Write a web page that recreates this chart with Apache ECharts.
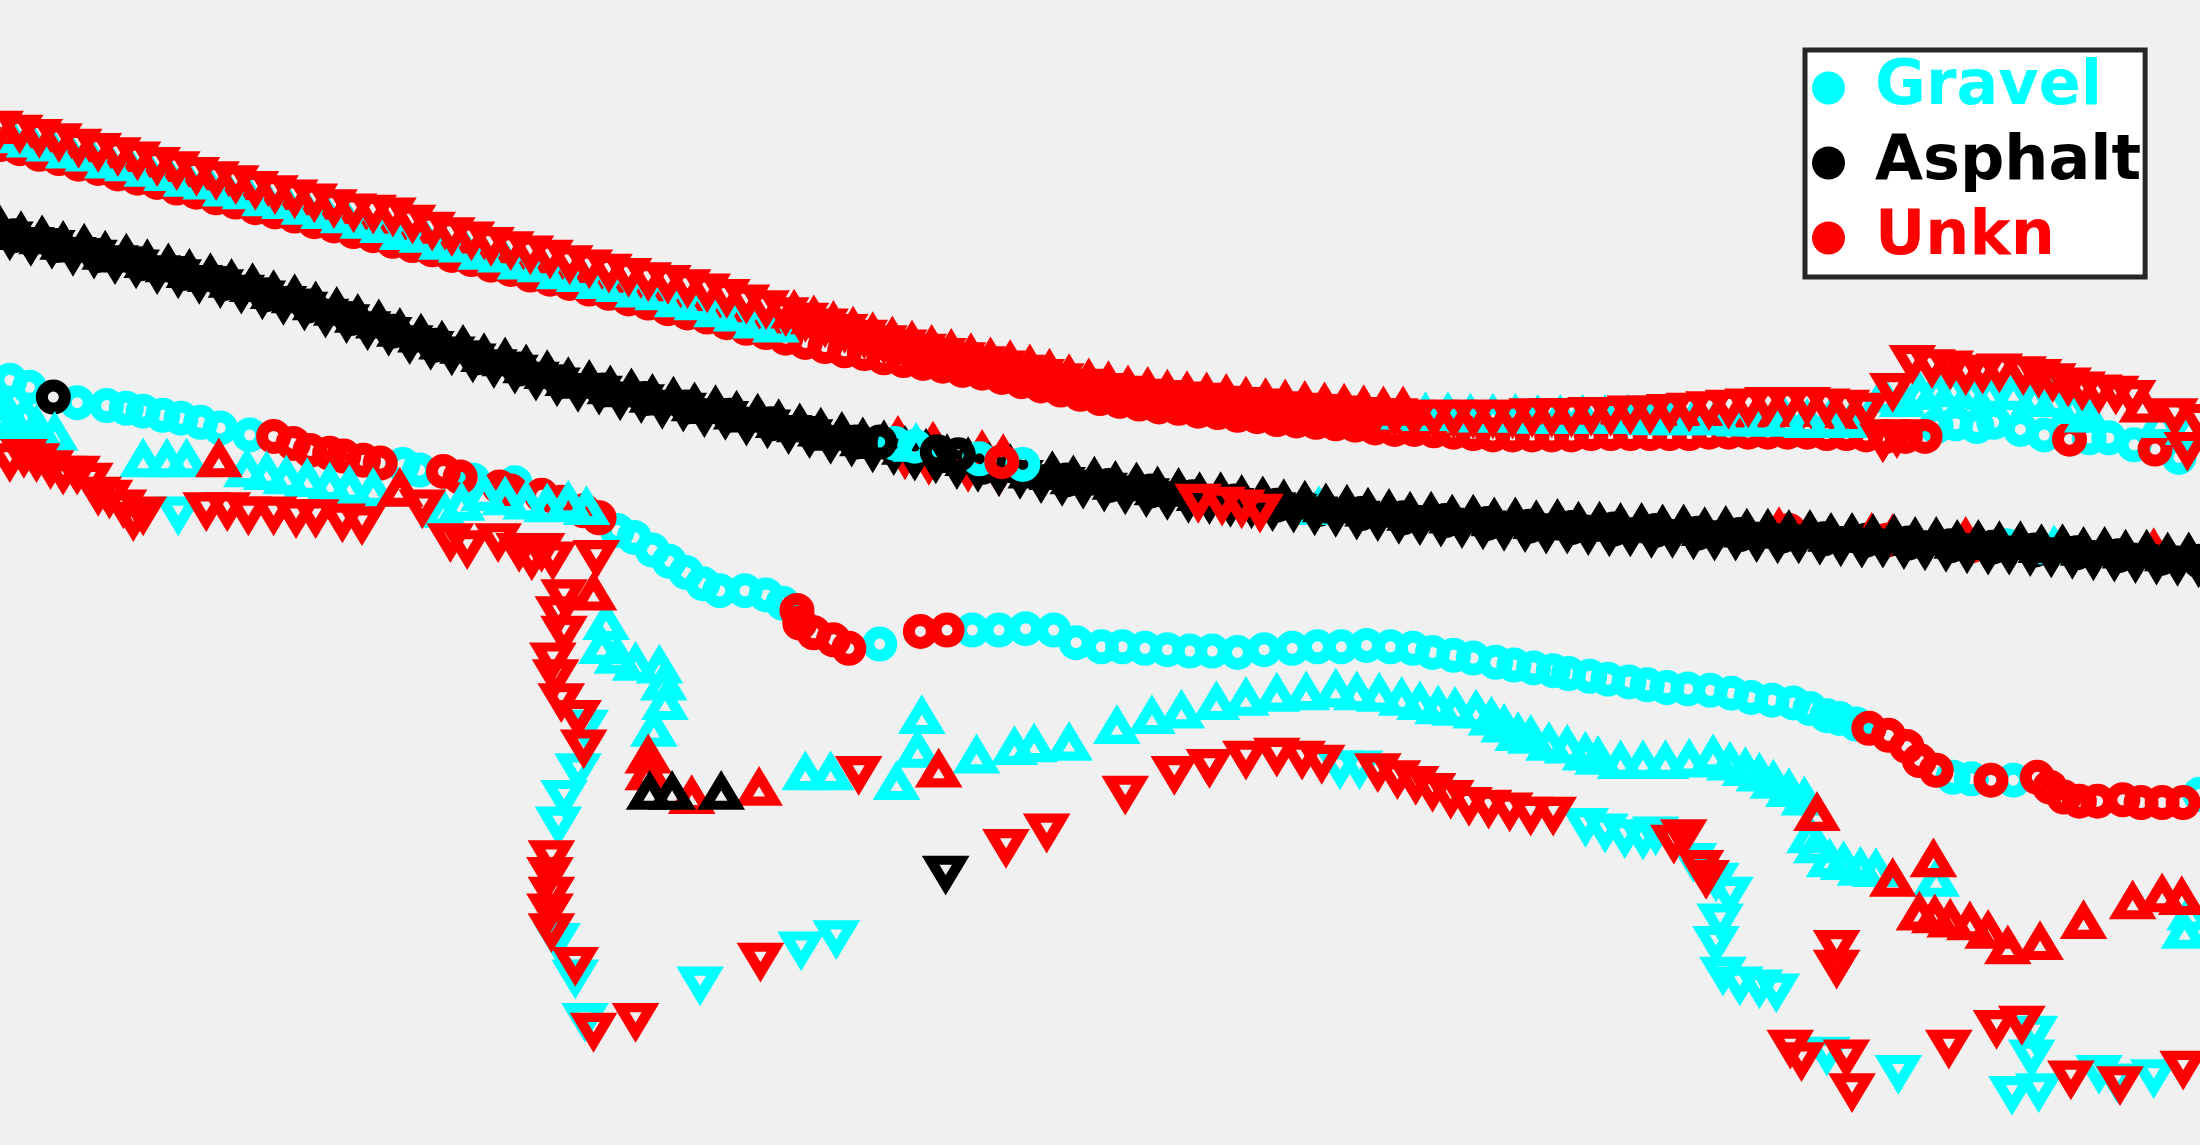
<!DOCTYPE html>
<html><head><meta charset="utf-8">
<script src="https://cdn.jsdelivr.net/npm/echarts@6/dist/echarts.min.js"></script>
<style>html,body{margin:0;padding:0;background:#f0f0f0;}#c{width:2200px;height:1145px;}</style>
</head><body><div id="c"></div>
<script>
// ---------- categories ----------
const categories = ['Gravel', 'Asphalt', 'Unkn'];

// ---------- Asphalt band ----------
const asphaltUp = [[0,162],[15,166],[30,169],[45,173],[60,175],[75,180],[90,182],[105,186],[120,189],[135,193],[150,196],[165,200],[180,203],[195,208],[210,211],[225,216],[240,220],[255,225],[270,229],[285,235],[300,239],[315,244],[330,247],[345,253],[360,256],[375,261],[390,265],[405,270],[420,272],[435,276],[450,278],[465,282],[480,284],[495,288],[510,290],[525,294],[540,296],[555,300],[570,303],[585,306],[600,309],[615,313],[630,315],[645,319],[660,321],[675,325],[690,327],[705,331],[720,332],[735,336],[750,337],[765,340],[780,341],[795,344],[810,345],[825,348],[840,349],[855,352],[870,352],[885,354],[900,355],[915,357],[930,358],[945,360],[960,361],[975,363],[990,364],[1005,366],[1020,366],[1035,368],[1050,368],[1065,370],[1080,370],[1095,372],[1110,371],[1125,373],[1140,373],[1155,374],[1170,374],[1185,375],[1200,375],[1215,377],[1230,376],[1245,378],[1260,378],[1275,379],[1290,379],[1305,381],[1320,381],[1335,382],[1350,382],[1365,384],[1380,384],[1395,386],[1410,386],[1425,387],[1440,387],[1455,389],[1470,389],[1485,391],[1500,391],[1515,393],[1530,393],[1545,395],[1560,395]];
const asphaltDown = [[7,170],[22,174],[37,176],[52,181],[67,183],[82,187],[97,190],[112,194],[127,197],[142,201],[157,204],[172,208],[187,212],[202,216],[217,220],[232,225],[247,229],[262,234],[277,238],[292,244],[307,248],[322,252],[337,257],[352,261],[367,265],[382,270],[397,274],[412,278],[427,280],[442,284],[457,286],[472,290],[487,292],[502,296],[517,298],[532,302],[547,304],[562,308],[577,311],[592,315],[607,317],[622,321],[637,323],[652,327],[667,329],[682,333],[697,335],[712,338],[727,340],[742,343],[757,345],[772,347],[787,349],[802,351],[817,353],[832,355],[847,357],[862,358],[877,360],[892,361],[907,363],[922,364],[937,366],[952,367],[967,369],[982,370],[997,372],[1012,373],[1027,374],[1042,375],[1057,376],[1072,377],[1087,378],[1102,379],[1117,379],[1132,380],[1147,381],[1162,381],[1177,382],[1192,382],[1207,383],[1222,384],[1237,384],[1252,385],[1267,386],[1282,386],[1297,387],[1312,388],[1327,389],[1342,389],[1357,390],[1372,391],[1387,392],[1402,393],[1417,394],[1432,394],[1447,395],[1462,396],[1477,397],[1492,398],[1507,399],[1522,400],[1537,401],[1552,402],[1567,403]];
const asphaltCirc = [[10,168],[40,175],[70,182],[100,188],[130,195],[160,202],[190,210],[220,218],[250,227],[280,236],[310,246],[340,255],[370,263],[400,272],[430,278],[460,284],[490,290],[520,296],[550,302],[580,309],[610,315],[640,321],[700,333],[760,342],[790,346],[820,350],[850,354],[880,357],[910,360],[940,363],[970,366],[1000,369],[1030,371],[1060,373],[1090,375],[1120,376],[1150,377],[1180,378],[1210,380],[1240,381],[1270,382],[1300,384],[1330,385],[1360,387],[1390,389],[1420,390],[1450,392],[1480,394],[1510,396],[1540,398],[1568,400]];
const asphaltLowUp = [[463,565],[479,565],[514,565]];
const asphaltLowDown = [[674,622]];
const asphaltCurveCirc = [[38,283]];

// ---------- top band ----------
const unknTopDown = [[0,91],[14,94],[28,97],[42,100],[56,104],[70,107],[84,110],[98,113],[112,117],[126,120],[140,124],[154,127],[168,130],[182,134],[196,137],[210,140],[224,143],[238,147],[252,150],[266,151],[280,153],[294,158],[308,163],[322,167],[336,170],[350,174],[364,177],[378,180],[392,183],[406,187],[420,190],[434,193],[448,196],[462,199],[476,201],[490,204],[504,207],[518,211],[532,215],[546,219],[560,224],[574,228],[588,232],[602,236],[616,240],[630,244],[644,247],[658,250],[672,253],[686,256],[700,259],[714,262],[728,265],[742,268],[756,271],[770,275],[784,278],[798,280],[812,282],[826,283],[840,284],[854,285],[868,287],[882,288],[896,289],[910,291],[924,292],[938,293],[952,294],[966,295],[980,296],[994,296],[1008,297],[1022,297],[1036,297],[1050,297],[1064,297],[1078,297],[1092,296],[1106,296],[1120,296],[1134,295],[1148,295],[1162,294],[1176,294],[1190,293],[1204,292],[1218,291],[1232,290],[1246,289],[1260,288],[1274,288],[1288,288],[1302,289],[1316,290],[1330,292],[1342,314],[1349,278],[1352,311],[1363,258],[1377,261],[1390,262],[1401,266],[1413,265],[1425,264],[1442,266],[1453,268],[1463,271],[1474,274],[1484,277],[1496,279],[1508,280],[1520,283],[1550,296],[1559,320],[1568,300]];
const unknTopUp = [[566,222],[580,226],[594,230],[608,234],[622,238],[636,241],[650,244],[664,247],[678,250],[692,253],[706,256],[720,258],[734,261],[748,264],[762,268],[776,271],[790,273],[804,276],[818,277],[832,279],[846,280],[860,281],[874,282],[888,284],[902,285],[916,286],[930,287],[944,288],[958,289],[972,290],[986,291],[1000,291],[1527,289]];
const gravelTopUp = [[7,97],[21,100],[35,103],[49,108],[63,110],[77,115],[91,117],[105,121],[119,124],[133,128],[147,130],[161,135],[175,137],[189,142],[203,144],[217,148],[231,151],[245,154],[259,158],[273,161],[287,166],[301,168],[315,173],[329,175],[343,180],[357,182],[371,187],[385,189],[399,194],[413,196],[427,201],[441,203],[455,207],[469,209],[483,214],[497,216],[511,221],[525,224],[539,229],[553,232],[1000,294],[1016,295],[1032,295],[1048,296],[1064,296],[1080,296],[1096,297],[1112,297],[1128,297],[1144,297],[1160,297],[1176,298],[1192,298],[1208,298],[1224,298],[1240,299],[1256,299],[1272,299],[1288,300],[1304,300],[1320,300],[1342,282],[1356,285],[1368,280],[1380,278],[1392,277],[1405,279],[1418,280],[1435,280],[1450,283],[1463,285],[1477,290],[1488,296],[1540,300],[1560,305]];
const unknTopCirc = [[0,103],[14,106],[28,110],[42,113],[56,117],[70,120],[84,124],[98,127],[112,130],[126,134],[140,137],[154,141],[168,144],[182,148],[196,151],[210,154],[224,158],[238,161],[252,165],[266,168],[280,172],[294,175],[308,178],[322,182],[336,185],[350,189],[364,192],[378,196],[392,199],[406,202],[420,206],[434,209],[448,213],[462,216],[476,220],[490,223],[504,226],[518,230],[532,234],[546,237],[560,241],[574,244],[588,247],[602,250],[616,252],[630,255],[644,257],[658,259],[672,261],[686,264],[700,266],[714,269],[728,272],[742,275],[756,278],[770,281],[784,284],[798,286],[812,288],[826,290],[840,291],[854,293],[868,294],[882,296],[896,297],[910,299],[924,300],[938,301],[952,302],[966,303],[980,305],[994,306],[1008,306],[1022,307],[1036,308],[1050,309],[1064,310],[1078,310],[1092,310],[1106,310],[1120,310],[1134,309],[1148,309],[1162,309],[1176,309],[1190,309],[1204,309],[1218,308],[1232,308],[1246,308],[1260,308],[1274,308],[1288,308],[1302,309],[1316,309],[1330,310],[1344,311],[1358,311],[1372,311],[1475,313],[1536,320]];
const gravelTopCirc = [[1380,304],[1394,302],[1409,304],[1421,301],[1440,306],[1457,310],[1489,312],[1503,312],[1521,317],[1553,326]];

// ---------- circle curve ----------
const gravelCurveCirc = [[7,271],[21,276],[55,287],[76,289],[90,291],[102,293],[116,296],[129,298],[143,301],[157,305],[178,310],[287,331],[299,335],[337,342],[367,344],[440,378],[452,383],[465,392],[477,400],[489,408],[501,416],[513,421],[531,421],[546,424],[558,430],[627,459],[693,449],[712,449],[731,448],[751,449],[767,458],[785,461],[800,461],[816,462],[832,463],[848,464],[864,464],[882,465],[901,463],[921,462],[939,461],[956,461],[974,460],[991,461],[1007,462],[1021,465],[1036,467],[1050,469],[1066,472],[1079,474],[1093,476],[1107,478],[1118,480],[1133,482],[1146,484],[1161,486],[1174,488],[1188,490],[1203,491],[1219,492],[1234,494],[1248,497],[1263,499],[1278,501],[1290,505],[1302,510],[1311,512],[1323,516],[1392,554],[1405,555],[1435,556],[1568,566]];
const unknCurveCirc = [[195,311],[209,316],[221,321],[235,323],[245,325],[259,328],[271,330],[316,336],[328,340],[356,347],[364,350],[386,353],[400,358],[416,364],[427,369],[568,435],[570,444],[580,451],[594,456],[605,462],[656,450],[675,449],[1332,519],[1346,524],[1359,532],[1368,542],[1380,549],[1419,556],[1452,554],[1461,561],[1471,568],[1482,571],[1495,571],[1513,570],[1526,572],[1541,572],[1556,572]];

// ---------- lower curve ----------
const gravelLowUp = [[2,288],[4,295],[18,296],[10,302],[26,304],[30,312],[39,309],[102,328],[119,328],[133,328],[176,335],[190,337],[204,340],[219,342],[235,345],[249,347],[266,349],[316,364],[329,359],[345,352],[360,355],[375,358],[390,360],[405,358],[418,362],[432,444],[429,461],[440,468],[453,473],[470,475],[473,487],[474,501],[466,520],[574,551],[592,551],[639,558],[657,511],[654,535],[696,539],[723,533],[737,531],[762,530],[796,518],[821,511],[842,507],[867,501],[888,498],[910,495],[931,494],[952,492],[967,494],[983,495],[999,498],[1012,501],[1025,504],[1037,505],[1052,507],[1063,512],[1072,517],[1082,523],[1091,525],[1104,530],[1117,532],[1130,537],[1139,540],[1155,543],[1171,543],[1187,543],[1204,542],[1221,539],[1233,544],[1244,548],[1254,552],[1264,557],[1275,563],[1286,569],[1290,596],[1295,603],[1304,613],[1314,615],[1326,619],[1337,620],[1380,627],[1557,664],[1561,651]];
const gravelLowDown = [[127,366],[417,518],[412,549],[402,568],[398,587],[397,670],[410,696],[417,727],[499,701],[571,676],[596,668],[955,547],[969,547],[1130,588],[1144,592],[1158,596],[1171,597],[1180,594],[1207,613],[1223,627],[1233,637],[1226,656],[1223,672],[1228,694],[1240,701],[1254,703],[1266,706],[1302,751],[1353,764],[1450,736],[1448,753],[1434,779],[1453,777],[1496,764],[1509,770],[1535,767]];
const unknLowUp = [[156,328],[285,349],[423,423],[462,539],[462,551],[493,568],[541,562],[669,549],[1295,580],[1349,627],[1378,613],[1368,651],[1379,653],[1390,656],[1404,658],[1417,664],[1431,675],[1454,672],[1485,657],[1520,643],[1541,638],[1555,640]];
const unknLowDown = [[7,328],[17,325],[26,328],[36,333],[45,337],[55,337],[64,342],[70,352],[78,354],[88,361],[95,370],[102,366],[147,363],[162,363],[177,366],[195,366],[211,368],[225,368],[244,371],[258,373],[301,361],[321,385],[333,390],[355,385],[370,392],[379,398],[386,392],[394,398],[425,397],[402,425],[398,437],[402,451],[394,470],[396,482],[400,499],[412,511],[416,532],[393,611],[392,623],[393,637],[392,649],[393,663],[410,687],[423,734],[453,727],[542,684],[612,551],[717,603],[746,592],[802,565],[837,551],[862,546],[888,540],[910,538],[928,540],[942,543],[982,549],[996,554],[1009,558],[1021,563],[1034,568],[1047,573],[1061,575],[1076,577],[1091,580],[1107,580],[1193,600],[1200,596],[1212,618],[1216,625],[1309,675],[1309,689],[1276,746],[1284,755],[1316,753],[1320,777],[1389,746],[1423,732],[1441,729],[1476,768],[1511,772],[1556,761]];

// ---------- marks inside the Asphalt band ----------
const hiddenUnknUp = [[1268,377],[1334,381],[1349,382],[1401,384],[1535,392]];
const hiddenUnknCirc = [[1275,378],[1345,385],[1405,389]];
const hiddenGravelUp = [[940,362],[1464,390]];
const hiddenGravelCirc = [[1430,389]];
const clusterUnknUp = [[640,312],[665,316],[700,322],[715,325]];
const clusterUnknDown = [[645,326],[662,330],[690,335],[712,338]];
const clusterGravelUp = [[653,317]];
const clusterGravelCirc = [[638,316],[652,318],[698,327],[729,331]];
const clusterUnknCirc = [[714,329]];
const clusterAsphaltCirc = [[627,315],[668,322],[683,324]];
const overUnknDown = [[854,357],[871,359],[885,361],[898,364]];

// ---------- styling ----------
const colors = { Gravel: '#00ffff', Asphalt: '#000000', Unkn: '#ff0000' };
function mk(name, shape, data) {
  const isCirc = shape === 'circle';
  return {
    type: 'scatter', name: name, data: data,
    symbol: isCirc ? 'circle' : 'triangle',
    symbolSize: isCirc ? 23 : [30, 25],
    symbolRotate: shape === 'down' ? 180 : 0,
    itemStyle: { color: 'rgba(0,0,0,0)', borderColor: colors[name], borderWidth: isCirc ? 12 : 10,
                 borderJoin: 'miter', borderMiterLimit: 10, opacity: 1 },
    emphasis: { disabled: true }, silent: true, animation: false
  };
}

// draw order: all circles, then all up-triangles, then all down-triangles
const series = [
  mk('Gravel', 'circle', gravelTopCirc.concat(gravelCurveCirc, hiddenGravelCirc)),
  mk('Unkn', 'circle', unknTopCirc.concat(unknCurveCirc, hiddenUnknCirc)),
  mk('Asphalt', 'circle', asphaltCirc.concat(asphaltCurveCirc)),
  mk('Gravel', 'up', gravelTopUp.concat(gravelLowUp, hiddenGravelUp)),
  mk('Unkn', 'up', unknTopUp.concat(unknLowUp, hiddenUnknUp, clusterUnknUp)),
  mk('Asphalt', 'up', asphaltUp.concat(asphaltLowUp)),
  mk('Gravel', 'down', gravelLowDown),
  mk('Unkn', 'down', unknTopDown.concat(unknLowDown, clusterUnknDown)),
  mk('Asphalt', 'down', asphaltDown.concat(asphaltLowDown)),
  mk('Gravel', 'up', clusterGravelUp),
  mk('Gravel', 'circle', clusterGravelCirc),
  mk('Unkn', 'circle', clusterUnknCirc),
  mk('Asphalt', 'circle', clusterAsphaltCirc),
  mk('Unkn', 'down', overUnknDown)
];

const chart = echarts.init(document.getElementById('c'), null, { renderer: 'canvas' });
chart.setOption({
  backgroundColor: '#f0f0f0',
  animation: false,
  grid: { left: 0, right: 0, top: 0, bottom: 0, containLabel: false },
  xAxis: { type: 'value', min: 0, max: 1568, show: false },
  yAxis: { type: 'value', min: 0, max: 816, inverse: true, show: false },
  legend: {
    orient: 'vertical', left: 1805, top: 50,
    itemWidth: 33, itemHeight: 33, itemGap: 13,
    padding: [7, 4, 8, 7],
    backgroundColor: '#ffffff', borderColor: '#262626', borderWidth: 5, borderRadius: 0,
    selectedMode: false,
    textStyle: { fontFamily: 'DejaVu Sans', fontWeight: 'bold', fontSize: 62, padding: [0, 0, 0, 25] },
    data: categories.map(n => ({
      name: n, icon: 'circle',
      itemStyle: { color: colors[n], borderWidth: 0, borderColor: colors[n] },
      textStyle: { color: colors[n] }
    }))
  },
  series: series
});
</script>
</body></html>
